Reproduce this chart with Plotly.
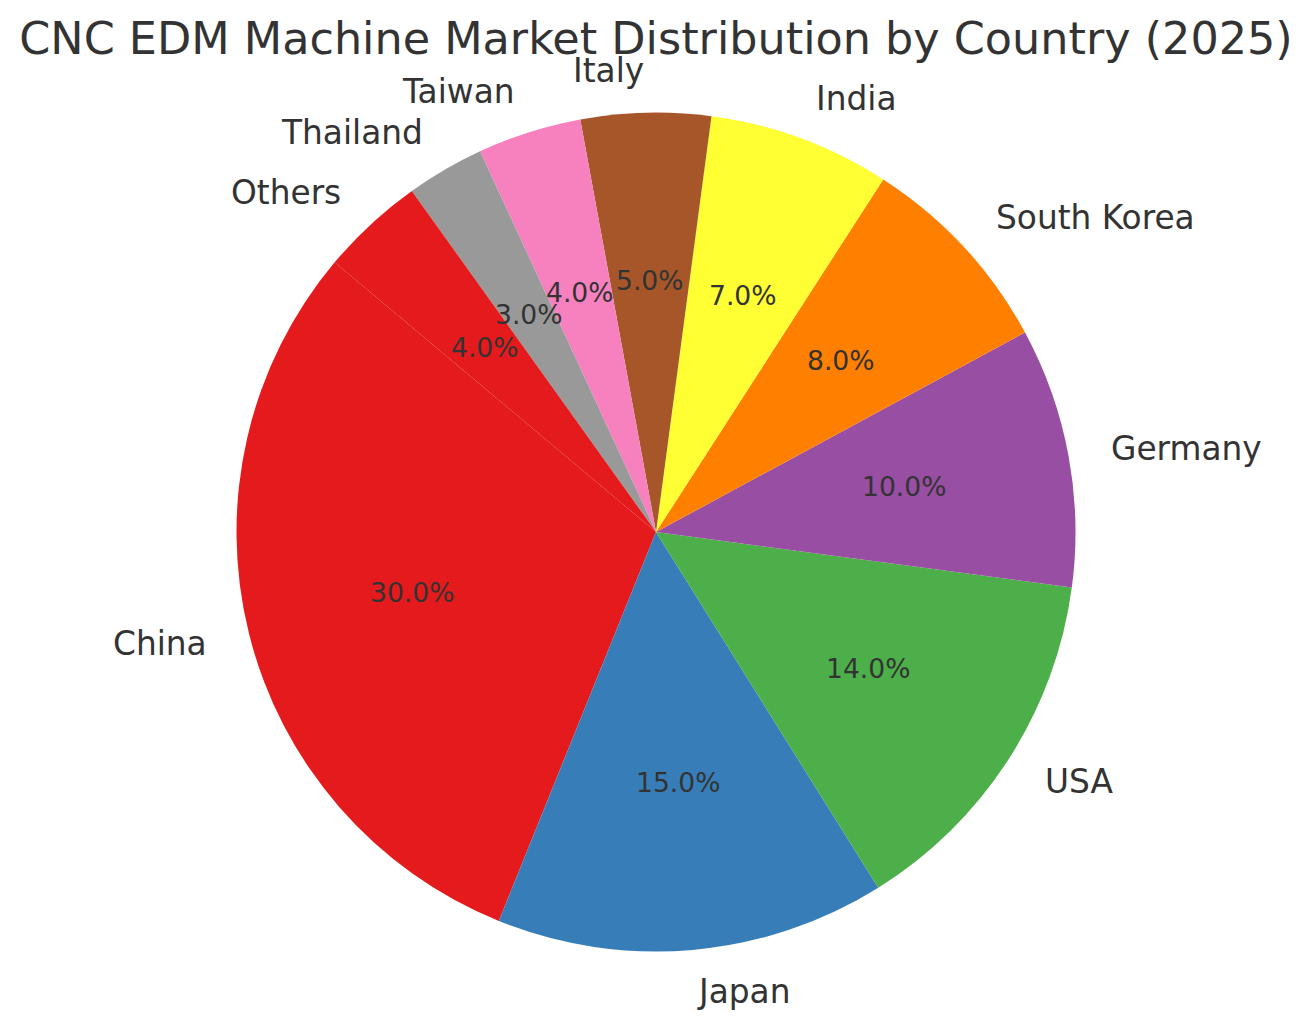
import numpy as np
import plotly.graph_objects as go

countries = ["China", "Japan", "USA", "Germany", "South Korea", "India",
             "Italy", "Taiwan", "Thailand", "Others"]
shares = [30, 15, 14, 10, 8, 7, 5, 4, 3, 4]
colors = ["#e41a1c", "#377eb8", "#4daf4a", "#984ea3", "#ff7f00", "#ffff33",
          "#a65628", "#f781bf", "#999999", "#e41a1c"]
title_text = "CNC EDM Machine Market Distribution by Country (2025)"

W, H = 1313, 1029
PAGE_OFF = 8               # default page margin of the html body
CX = 656 - PAGE_OFF        # pie centre x in figure pixels
CY = H - (532 - PAGE_OFF)  # pie centre y in figure pixels (from bottom)
R = 419.5                  # pie radius in pixels
START = 140.0              # start angle (degrees, counter-clockwise from +x)
TEXT = "#333333"
LABEL_SIZE = 32.8
PCT_SIZE = 26.6

vals = np.array(shares, dtype=float)
frac = vals / vals.sum()
cum = np.concatenate([[0], np.cumsum(frac)])
mid = np.deg2rad(START + 360 * (cum[:-1] + cum[1:]) / 2)

lab_x = CX + 1.1 * R * np.cos(mid)
lab_y = CY + 1.1 * R * np.sin(mid)
pct_x = CX + 0.6 * R * np.cos(mid)
pct_y = CY + 0.6 * R * np.sin(mid)
pct_txt = [f"{100 * f:.1f}%" for f in frac]

# plotly (counterclockwise): first slice spans [90-rot-v0, 90-rot] in math degrees
rotation = 90 - START - 360 * frac[0]

fig = go.Figure()
fig.add_trace(go.Pie(
    labels=countries, values=shares, sort=False, direction="counterclockwise",
    rotation=rotation, marker=dict(colors=colors, line=dict(width=0)),
    textinfo="none", hoverinfo="label+percent", showlegend=False,
    domain=dict(x=[(CX - R) / W, (CX + R) / W], y=[(CY - R) / H, (CY + R) / H]),
))
# invisible trace so the helper cartesian axes exist
fig.add_trace(go.Scatter(x=[0, W], y=[0, H], mode="markers",
                         marker=dict(opacity=0), hoverinfo="skip", showlegend=False))

annotations = []
for name, x, y, a in zip(countries, lab_x, lab_y, mid):
    annotations.append(dict(
        x=x, y=y, xref="x", yref="y", text=name, showarrow=False,
        xanchor="left" if np.cos(a) >= 0 else "right", yanchor="middle",
        borderpad=0,
        font=dict(family="DejaVu Sans", size=LABEL_SIZE, color=TEXT),
    ))
for t, x, y in zip(pct_txt, pct_x, pct_y):
    annotations.append(dict(
        x=x, y=y, xref="x", yref="y", text=t, showarrow=False,
        xanchor="center", yanchor="middle", borderpad=0,
        font=dict(family="DejaVu Sans", size=PCT_SIZE, color=TEXT),
    ))

fig.update_layout(
    width=W, height=H, margin=dict(l=0, r=0, t=0, b=0),
    paper_bgcolor="white", plot_bgcolor="rgba(0,0,0,0)",
    xaxis=dict(range=[0, W], visible=False, fixedrange=True),
    yaxis=dict(range=[0, H], visible=False, fixedrange=True),
    title=dict(text=title_text, x=CX / W, xanchor="center",
               y=1 - (38 - PAGE_OFF) / H, yanchor="middle", yref="container",
               font=dict(family="DejaVu Sans", size=44.5, color=TEXT)),
    font=dict(family="DejaVu Sans"),
    annotations=annotations,
)

fig.write_html("out.html")
